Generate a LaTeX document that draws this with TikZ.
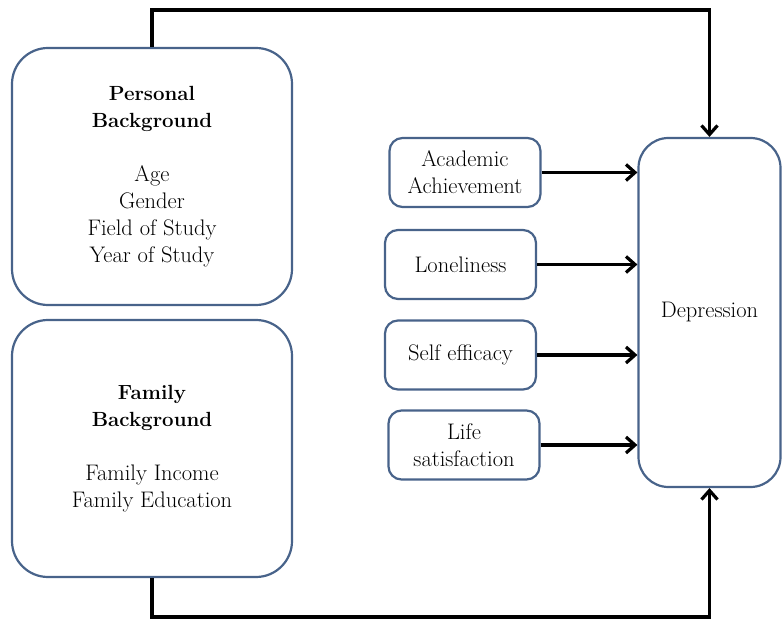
\documentclass[tikz,border=0pt]{standalone}
\usetikzlibrary{positioning,arrows.meta}
\definecolor{boxBlue}{HTML}{48638A}
\newcommand{\headtext}[1]{{\fontsize{20.5}{27}\selectfont\textbf{#1}}}

\begin{document}
\begin{tikzpicture}[x=1pt, y=-1pt, font=\fontsize{22.5}{27}\selectfont,
      bigbox/.style={draw=boxBlue, line width=2.2pt, rounded corners=36pt, align=center,
                     minimum width=280pt, minimum height=257pt, inner sep=0pt},
      factor/.style={draw=boxBlue, line width=2.2pt, rounded corners=13pt, align=center,
                     minimum width=151pt, minimum height=69pt, inner sep=0pt},
      arr/.style={-{Straight Barb[length=9pt,width=16pt]}, line width=3.2pt}]
    \useasboundingbox (0,0) rectangle (782,620);
    \node[bigbox] (pers) at (152,176.5)
      {\headtext{Personal}\\\headtext{Background}\\[27pt]Age\\Gender\\Field of Study\\Year of Study};
    \node[bigbox] (fam) at (152,448.5)
      {\headtext{Family}\\\headtext{Background}\\[27pt]Family Income\\Family Education};
    \node[draw=boxBlue, line width=2.2pt, rounded corners=30pt, minimum width=142pt,
          minimum height=349pt] (dep) at (709.5,312.5) {Depression};
    \node[factor] (acad) at (465,172.5) {Academic\\Achievement};
    \node[factor] (lone) at (460.5,264.5) {Loneliness};
    \node[factor] (self) at (460.5,355) {Self efficacy};
    \node[factor] (life) at (464,445) {Life\\satisfaction};
    \coordinate (topLine) at (400,10);
    \coordinate (botLine) at (400,617);
    \draw[arr] (pers.north) |- (topLine) -| (dep.north);
    \draw[arr] (fam.south) |- (botLine) -| (dep.south);
    \draw[arr] (acad.east) -- (acad.east -| dep.west);
    \draw[arr] (lone.east) -- (lone.east -| dep.west);
    \draw[arr] (self.east) -- (self.east -| dep.west);
    \draw[arr] (life.east) -- (life.east -| dep.west);
  \end{tikzpicture}
\end{document}
